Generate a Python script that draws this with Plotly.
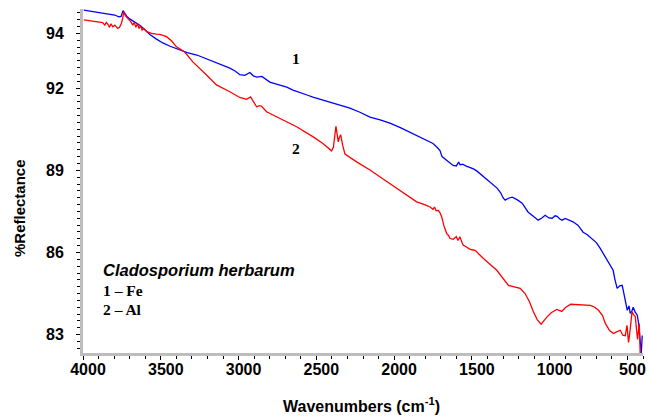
import plotly.graph_objects as go

# Curve 1 (Fe) - blue
wn_fe = [3995, 3940, 3893, 3850, 3820, 3796, 3770, 3755, 3743, 3730, 3719, 3700, 3670, 3635,
         3600, 3570, 3530, 3487, 3440, 3397, 3330, 3268, 3210, 3165, 3110, 3056, 3020, 2992,
         2960, 2927, 2905, 2883, 2850, 2825, 2799, 2740, 2690, 2650, 2606, 2560, 2522, 2460,
         2394, 2340, 2284, 2220, 2155, 2090, 2027, 1960, 1898, 1840, 1789, 1750, 1724, 1705,
         1692, 1675, 1660, 1640, 1621, 1600, 1585, 1576, 1560, 1540, 1512, 1490, 1467, 1430,
         1402, 1370, 1338, 1315, 1299, 1286, 1265, 1241, 1210, 1177, 1160, 1138, 1105, 1074,
         1050, 1029, 1005, 984, 965, 952, 935, 920, 900, 887, 850, 817, 800, 785, 760, 740,
         700, 675, 650, 624, 605, 592, 580, 566, 550, 534, 527, 515, 501, 490, 482, 472, 463,
         450, 437, 428, 418, 411, 405]
r_fe = [94.85, 94.80, 94.74, 94.71, 94.70, 94.67, 94.60, 94.62, 94.83, 94.72, 94.63, 94.53, 94.42, 94.30,
        94.12, 93.96, 93.80, 93.65, 93.53, 93.43, 93.30, 93.21, 93.08, 92.95, 92.84, 92.73, 92.62, 92.49,
        92.47, 92.57, 92.45, 92.40, 92.43, 92.32, 92.22, 92.12, 92.04, 91.93, 91.83, 91.75, 91.67, 91.56,
        91.45, 91.37, 91.27, 91.12, 90.94, 90.84, 90.72, 90.56, 90.39, 90.24, 90.10, 89.98, 89.84, 89.72,
        89.50, 89.43, 89.37, 89.27, 89.18, 89.16, 89.30, 89.20, 89.22, 89.16, 89.11, 89.05, 88.97, 88.80,
        88.64, 88.50, 88.35, 88.18, 87.99, 87.91, 87.98, 88.02, 87.93, 87.80, 87.66, 87.47, 87.32, 87.18,
        87.26, 87.36, 87.26, 87.25, 87.34, 87.32, 87.22, 87.18, 87.24, 87.21, 87.12, 86.99, 86.86, 86.74,
        86.66, 86.56, 86.36, 86.15, 85.92, 85.64, 85.50, 85.35, 85.00, 84.69, 84.78, 84.80, 84.62, 84.25,
        83.89, 84.05, 83.78, 83.85, 84.00, 83.82, 83.71, 83.40, 82.90, 82.32, 82.97]

# Curve 2 (Al) - red
wn_al = [3995, 3940, 3900, 3873, 3860, 3850, 3841, 3830, 3820, 3809, 3795, 3777, 3765, 3753,
         3745, 3738, 3728, 3719, 3705, 3693, 3680, 3670, 3660, 3650, 3640, 3630, 3620, 3610,
         3590, 3560, 3530, 3506, 3463, 3430, 3399, 3346, 3294, 3250, 3206, 3142, 3100, 3056,
         2992, 2949, 2923, 2905, 2884, 2865, 2852, 2820, 2734, 2627, 2520, 2460, 2402, 2390,
         2374, 2366, 2359, 2352, 2344, 2330, 2316, 2241, 2155, 2059, 1962, 1855, 1800, 1769,
         1750, 1740, 1730, 1716, 1705, 1694, 1680, 1662, 1650, 1640, 1620, 1600, 1590, 1576,
         1565, 1555, 1540, 1520, 1500, 1479, 1426, 1340, 1265, 1190, 1158, 1130, 1104, 1080,
         1055, 1040, 1018, 990, 954, 922, 900, 865, 820, 784, 739, 710, 686, 660, 643, 615,
         590, 570, 546, 530, 514, 503, 493, 482, 471, 460, 450, 440, 435, 424, 418]
r_al = [94.49, 94.45, 94.40, 94.39, 94.30, 94.40, 94.34, 94.22, 94.35, 94.24, 94.30, 94.18, 94.22, 94.37,
        94.55, 94.79, 94.65, 94.60, 94.50, 94.43, 94.30, 94.40, 94.22, 94.35, 94.18, 94.28, 94.12, 94.18,
        94.06, 94.00, 93.97, 93.96, 93.88, 93.72, 93.51, 93.32, 92.96, 92.73, 92.48, 92.12, 92.00, 91.87,
        91.66, 91.59, 91.68, 91.50, 91.32, 91.36, 91.34, 91.14, 90.89, 90.59, 90.22, 89.99, 89.71, 89.85,
        90.61, 90.35, 90.04, 90.20, 90.30, 89.90, 89.59, 89.31, 89.01, 88.64, 88.27, 87.85, 87.74, 87.66,
        87.58, 87.66, 87.52, 87.54, 87.45, 87.30, 86.98, 86.69, 86.62, 86.51, 86.48, 86.58, 86.44, 86.57,
        86.38, 86.26, 86.22, 86.14, 86.10, 86.08, 85.78, 85.35, 84.80, 84.69, 84.50, 84.20, 83.83, 83.55,
        83.38, 83.50, 83.64, 83.80, 83.92, 83.85, 83.98, 84.11, 84.10, 84.07, 84.07, 84.00, 83.89, 83.70,
        83.42, 83.15, 83.04, 83.10, 83.16, 82.98, 82.96, 83.34, 82.72, 83.20, 83.83, 83.72, 83.67, 83.10,
        82.83, 83.40, 82.32]

x_ticks = [4000, 3500, 3000, 2500, 2000, 1500, 1000, 500]
y_ticks = [83, 86, 89, 92, 94]

fig = go.Figure()
fig.add_trace(go.Scatter(x=wn_fe, y=r_fe, mode="lines", line=dict(color="#0000FF", width=1.3),
                         showlegend=False))
fig.add_trace(go.Scatter(x=wn_al, y=r_al, mode="lines", line=dict(color="#FF0000", width=1.3),
                         showlegend=False))

tickfont = dict(family="Liberation Sans, Arial, sans-serif", size=16, color="black", weight="bold")

fig.update_layout(
    width=649, height=419,
    margin=dict(l=83, r=6, t=9, b=66, autoexpand=False),
    paper_bgcolor="white", plot_bgcolor="white",
    xaxis=dict(range=[4000, 400], tickmode="array", tickvals=x_ticks,
               ticktext=[str(v) for v in x_ticks], automargin=False,
               showgrid=False, zeroline=False, showline=True, linecolor="#bdbdbd", linewidth=3,
               ticks="outside", ticklen=4, tickwidth=1, tickcolor="black",
               minor=dict(dtick=100, tick0=400, ticks="outside", ticklen=3, tickcolor="black", tickwidth=1),
               tickfont=tickfont, ticklabelshift=-5, ticklabelstandoff=-4),
    yaxis=dict(range=[82.33, 94.89], tickmode="array", tickvals=y_ticks,
               ticktext=[str(v) for v in y_ticks], automargin=False,
               showgrid=False, zeroline=False, showline=True, linecolor="#bdbdbd", linewidth=3,
               ticks="outside", ticklen=4, tickwidth=1, tickcolor="black",
               minor=dict(dtick=0.25, tick0=83, ticks="outside", ticklen=3, tickcolor="black", tickwidth=1),
               tickfont=tickfont, ticklabelstandoff=9),
)

serif = dict(family="Liberation Serif, Times New Roman, serif", size=15.5, color="black", weight="bold")
fig.add_annotation(x=2631, y=93.1, text="1", showarrow=False, font=serif)
fig.add_annotation(x=2631, y=89.81, text="2", showarrow=False, font=serif)

fig.add_annotation(xref="paper", yref="paper", x=(101 - 83) / 560, y=(353 - 270) / 344,
                   xanchor="left", yanchor="middle", showarrow=False,
                   text="<b><i>Cladosporium herbarum</i></b>",
                   font=dict(family="Liberation Sans, Arial, sans-serif", size=16.5, color="black"))
fig.add_annotation(xref="paper", yref="paper", x=(101 - 83) / 560, y=(353 - 290) / 344,
                   xanchor="left", yanchor="middle", showarrow=False, text="1 – Fe", font=serif)
fig.add_annotation(xref="paper", yref="paper", x=(101 - 83) / 560, y=(353 - 309) / 344,
                   xanchor="left", yanchor="middle", showarrow=False, text="2 – Al", font=serif)

# axis titles
fig.add_annotation(xref="paper", yref="paper", x=(361 - 83) / 560, y=(353 - 405) / 344,
                   xanchor="center", yanchor="middle", showarrow=False,
                   text="Wavenumbers (cm<sup>-1</sup>)",
                   font=dict(family="Liberation Sans, Arial, sans-serif", size=16, color="black", weight="bold"))
fig.add_annotation(xref="paper", yref="paper", x=(20 - 83) / 560, y=(353 - 208) / 344,
                   xanchor="center", yanchor="middle", showarrow=False, textangle=-90,
                   text="%Reflectance",
                   font=dict(family="Liberation Sans, Arial, sans-serif", size=15, color="black", weight="bold"))

fig.write_html("out.html", config={"displayModeBar": False},
               post_script="document.body.style.margin='0';")
